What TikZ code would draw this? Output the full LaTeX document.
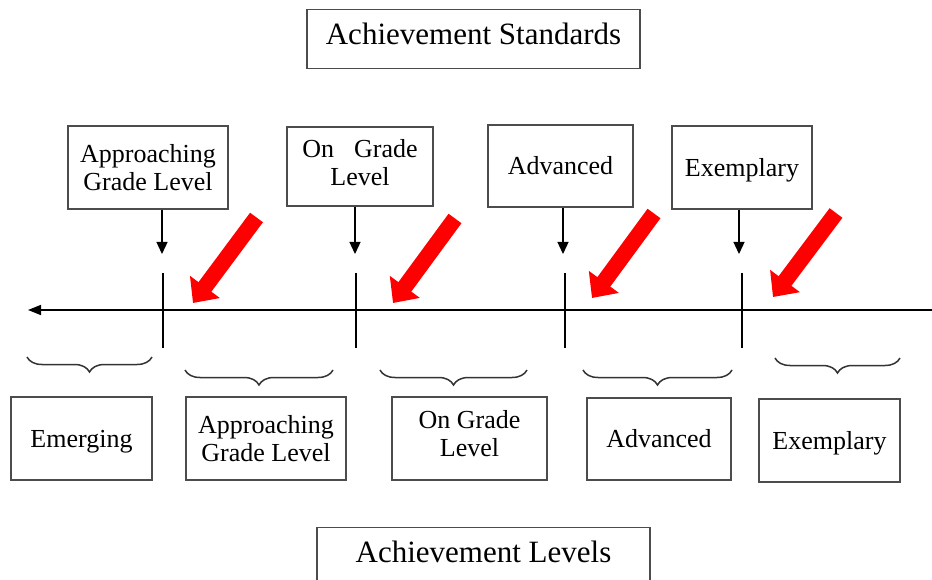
\documentclass[tikz,border=0pt]{standalone}
\usepackage{fontspec}
\setmainfont{Liberation Serif}
\usetikzlibrary{arrows.meta,decorations.pathreplacing}
\begin{document}
\begin{tikzpicture}[x=1pt,y=-1pt,
  box/.style={draw=black!70, line width=1.4pt, align=center, inner sep=0pt,
              font=\fontsize{26}{28}\selectfont},
  titlebox/.style={draw=black!70, line width=1.4pt, anchor=north, inner xsep=0pt, inner ysep=0pt,
              minimum width=333pt, font=\fontsize{31}{34}\selectfont},
  downarrow/.style={line width=1.3pt, -{Triangle[length=12pt,width=11pt]}},
  ticks/.style={line width=1.3pt},
  axisline/.style={line width=1.6pt, -{Triangle[length=13pt,width=10pt]}},
  redarrow/.style={red, line width=16pt, -{Triangle[length=20pt,width=36pt]}},
  bracestyle/.style={draw=black!80, line width=1.5pt,
              decorate, decoration={brace, mirror, amplitude=15pt}}]
\useasboundingbox (0,0) rectangle (932,580);
\clip (0,0) rectangle (932,580);

% titles
\node[titlebox, text height=35pt, text depth=24pt] (st) at (473.5,9) {Achievement Standards};
\node[titlebox, text height=35pt, text depth=40pt] (lv) at (483.5,527) {Achievement Levels};

% standard boxes
\node[box, minimum width=160pt, minimum height=83pt] (s1) at (148,167.5) {Approaching\\Grade Level};
\node[box, minimum width=146pt, minimum height=79pt, text depth=8pt] (s2) at (360,166.5) {On\hspace{20pt}Grade\\Level};
\node[box, minimum width=145pt, minimum height=82pt] (s3) at (560.5,166) {Advanced};
\node[box, minimum width=140pt, minimum height=83pt, text height=24.5pt] (s4) at (742,167.5) {Exemplary};

% level boxes
\node[box, minimum width=141pt, minimum height=83pt, text height=24pt] (l1) at (81.5,438.5) {Emerging};
\node[box, minimum width=160pt, minimum height=83pt] (l2) at (266,438.5) {Approaching\\Grade Level};
\node[box, minimum width=155pt, minimum height=83pt, text depth=10pt] (l3) at (469.5,438.5) {On Grade\\Level};
\node[box, minimum width=144pt, minimum height=82pt] (l4) at (659,439) {Advanced};
\node[box, minimum width=141pt, minimum height=83pt, text height=24pt] (l5) at (829.5,440.5) {Exemplary};

% axis
\coordinate (axR) at (932,310);
\coordinate (axL) at (28,310);
\draw[axisline] (axR) -- (axL);

% arrow tips and ticks
\coordinate (a1) at (162,254);
\coordinate (a2) at (355,254);
\coordinate (a3) at (563,254);
\coordinate (a4) at (739,254);
\draw[downarrow] (s1.south -| a1) -- (a1);
\draw[downarrow] (s2.south -| a2) -- (a2);
\draw[downarrow] (s3.south -| a3) -- (a3);
\draw[downarrow] (s4.south -| a4) -- (a4);

\coordinate (t1a) at (163,273); \coordinate (t1b) at (163,348);
\coordinate (t2a) at (356,273); \coordinate (t2b) at (356,348);
\coordinate (t3a) at (565,273); \coordinate (t3b) at (565,348);
\coordinate (t4a) at (742,273); \coordinate (t4b) at (742,348);
\draw[ticks] (t1a) -- (t1b);
\draw[ticks] (t2a) -- (t2b);
\draw[ticks] (t3a) -- (t3b);
\draw[ticks] (t4a) -- (t4b);

% red arrows
\coordinate (r1a) at (256.5,217.5); \coordinate (r1b) at (193,303);
\coordinate (r2a) at (455,218.5);   \coordinate (r2b) at (393,303);
\coordinate (r3a) at (654,213.5);   \coordinate (r3b) at (592,298);
\coordinate (r4a) at (836,213);     \coordinate (r4b) at (773,297);
\draw[redarrow] (r1a) -- (r1b);
\draw[redarrow] (r2a) -- (r2b);
\draw[redarrow] (r3a) -- (r3b);
\draw[redarrow] (r4a) -- (r4b);

% braces
\draw[bracestyle] (27,357) -- (152,357);
\draw[bracestyle] (185,370) -- (333,370);
\draw[bracestyle] (380,370) -- (527,370);
\draw[bracestyle] (583,370) -- (732,370);
\draw[bracestyle] (775,358) -- (900,358);
\end{tikzpicture}
\end{document}
